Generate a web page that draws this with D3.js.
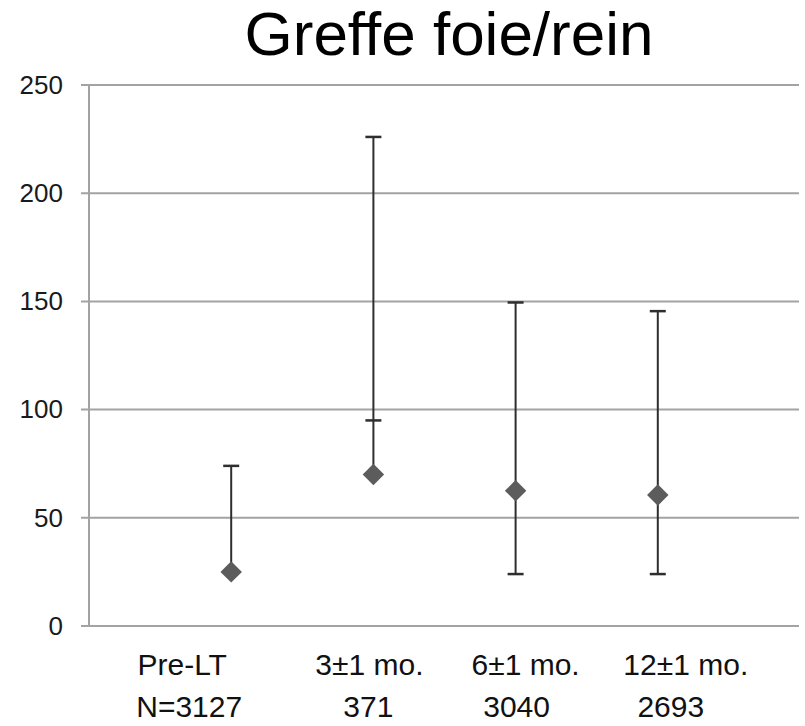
<!DOCTYPE html>
<html>
<head>
<meta charset="utf-8">
<script src="https://cdn.jsdelivr.net/npm/d3@7"></script>
<style>
  html, body { margin: 0; padding: 0; background: #fff; }
  svg { display: block; font-family: "Liberation Sans", Arial, sans-serif; }
</style>
</head>
<body>
<svg id="chart" width="805" height="726"></svg>
<script>
// Periods and group sizes
const periods = ["Pre-LT", "3±1 mo.", "6±1 mo.", "12±1 mo."];
const counts = ["N=3127", "371", "3040", "2693"];

// Central value and whisker ends per period (null: whisker stops at the marker)
const means = [25, 70, 62.5, 60.5];
const upper = [74, 226, 149.5, 145.5];
const lower = [null, null, 24, 24];
// Intermediate cap drawn on the 3±1 mo. whisker
const innerCap = [null, 95, null, null];

const yTicks = [0, 50, 100, 150, 200, 250];

// Layout
const svg = d3.select("#chart");
const axisX = 89, plotRight = 800, plotTop = 85, plotBottom = 626;
const gridLeft = 81, gridRight = 799;

const x = d3.scaleLinear().domain([0, periods.length + 1]).range([axisX, plotRight]);
const y = d3.scaleLinear().domain([0, 250]).range([plotBottom, plotTop]);

// Label nudges (px) under each period
const line1Dx = [-49, -4, 10, 28];
const line2Dx = [-42, -5, 1, 13];

// Title
svg.append("text")
  .attr("x", 449).attr("y", 55)
  .attr("text-anchor", "middle")
  .attr("font-size", 62)
  .attr("fill", "#000")
  .text("Greffe foie/rein");

// Horizontal gridlines
svg.append("g")
  .selectAll("line")
  .data(yTicks)
  .join("line")
  .attr("x1", gridLeft).attr("x2", gridRight)
  .attr("y1", d => y(d)).attr("y2", d => y(d))
  .attr("stroke", "#a3a3a3")
  .attr("stroke-width", 2);

// Vertical axis line
svg.append("line")
  .attr("x1", axisX).attr("x2", axisX)
  .attr("y1", y(250)).attr("y2", y(0))
  .attr("stroke", "#a3a3a3")
  .attr("stroke-width", 2);

// Y tick labels
const yAxis = svg.append("g")
  .attr("transform", `translate(${axisX},0)`)
  .call(d3.axisLeft(y).tickValues(yTicks).tickSize(0).tickPadding(26));
yAxis.select(".domain").remove();
yAxis.selectAll("text")
  .attr("font-size", 26)
  .attr("font-family", "\"Liberation Sans\", Arial, sans-serif")
  .attr("fill", "#1a1a1a");

// Whiskers
const pts = periods.map((p, i) => ({
  i, mean: means[i], hi: upper[i], lo: lower[i], mid: innerCap[i]
}));
const capHalf = 8;
const g = svg.append("g");

g.selectAll("line.whisker")
  .data(pts)
  .join("line")
  .attr("class", "whisker")
  .attr("x1", d => x(d.i + 1)).attr("x2", d => x(d.i + 1))
  .attr("y1", d => y(d.hi))
  .attr("y2", d => y(d.lo == null ? d.mean : d.lo))
  .attr("stroke", "#2e2e2e")
  .attr("stroke-width", 2);

const caps = [];
pts.forEach(d => {
  caps.push({ i: d.i, v: d.hi });
  if (d.lo != null) caps.push({ i: d.i, v: d.lo });
  if (d.mid != null) caps.push({ i: d.i, v: d.mid });
});
g.selectAll("line.cap")
  .data(caps)
  .join("line")
  .attr("class", "cap")
  .attr("x1", d => x(d.i + 1) - capHalf).attr("x2", d => x(d.i + 1) + capHalf)
  .attr("y1", d => y(d.v)).attr("y2", d => y(d.v))
  .attr("stroke", "#2e2e2e")
  .attr("stroke-width", 2.5);

// Diamond markers
const diamond = d3.symbol().type(d3.symbolSquare).size(230);
g.selectAll("path.marker")
  .data(pts)
  .join("path")
  .attr("class", "marker")
  .attr("d", diamond)
  .attr("transform", d => `translate(${x(d.i + 1)},${y(d.mean)}) rotate(45)`)
  .attr("fill", "#5c5c5c");

// Category labels (two lines)
const lab = svg.append("g").attr("font-size", 30).attr("fill", "#111").attr("text-anchor", "middle");
lab.selectAll("text.period")
  .data(periods)
  .join("text")
  .attr("class", "period")
  .attr("x", (d, i) => x(i + 1) + line1Dx[i])
  .attr("y", 675)
  .text(d => d);
lab.selectAll("text.count")
  .data(counts)
  .join("text")
  .attr("class", "count")
  .attr("x", (d, i) => x(i + 1) + line2Dx[i])
  .attr("y", 717)
  .text(d => d);
</script>
</body>
</html>
